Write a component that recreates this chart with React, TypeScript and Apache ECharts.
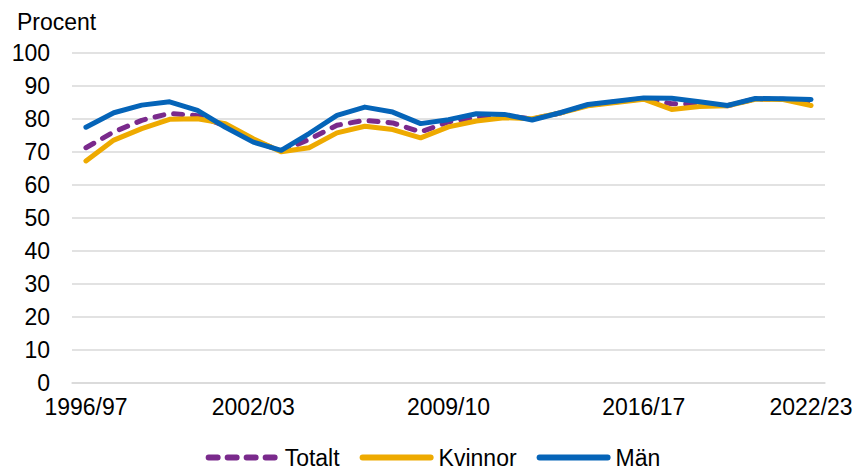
import React, { useEffect, useRef } from "react";
import * as echarts from "echarts";

const categories = [
  "1996/97", "1997/98", "1998/99", "1999/00", "2000/01", "2001/02", "2002/03",
  "2003/04", "2004/05", "2005/06", "2006/07", "2007/08", "2008/09", "2009/10",
  "2010/11", "2011/12", "2012/13", "2013/14", "2014/15", "2015/16", "2016/17",
  "2017/18", "2018/19", "2019/20", "2020/21", "2021/22", "2022/23",
];
const shownLabels = ["1996/97", "2002/03", "2009/10", "2016/17", "2022/23"];

const totalt = [71.3, 76.1, 79.6, 81.7, 81.0, 77.9, 73.5, 70.3, 73.8, 78.1, 79.6, 78.8, 76.1, 79.1, 80.5, 81.0, 80.0, 81.8, 84.2, 85.2, 86.2, 84.6, 84.5, 84.0, 86.1, 86.0, 85.0];
const kvinnor = [67.3, 73.6, 77.1, 79.9, 80.1, 78.6, 74.0, 70.1, 71.3, 75.8, 77.8, 76.8, 74.3, 77.6, 79.4, 80.4, 80.1, 81.8, 84.0, 85.0, 86.0, 82.9, 83.8, 84.0, 86.0, 85.9, 84.1];
const man = [77.5, 81.9, 84.2, 85.2, 82.6, 77.5, 73.0, 70.5, 75.6, 81.1, 83.6, 82.1, 78.6, 79.8, 81.6, 81.4, 79.7, 81.9, 84.4, 85.4, 86.4, 86.3, 85.2, 84.1, 86.2, 86.1, 85.9];

const FONT = "'Liberation Sans', Arial, sans-serif";
const FS = 23;

export default function App() {
  const ref = useRef<HTMLDivElement>(null);
  useEffect(() => {
    if (!ref.current) return;
    const chart = echarts.init(ref.current, undefined, { renderer: "svg" });
    chart.setOption({
      animation: false,
      textStyle: { fontFamily: FONT, color: "#000" },
      grid: { left: 72, right: 41, top: 53, bottom: 87, containLabel: false },
      graphic: [
        {
          type: "text",
          left: 17,
          top: 10,
          style: { text: "Procent", font: `${FS}px ${FONT}`, fill: "#000" },
        },
      ],
      legend: {
        bottom: -4,
        left: "center",
        itemWidth: 68,
        itemHeight: 14,
        itemGap: 20,
        itemStyle: { opacity: 0 },
        lineStyle: { width: 6, cap: "round" },
        textStyle: { fontSize: FS, fontFamily: FONT, color: "#000", padding: [0, 0, 0, 3] },
        data: ["Totalt", "Kvinnor", "Män"],
      },
      xAxis: {
        type: "category",
        data: categories,
        boundaryGap: true,
        axisTick: { show: false },
        axisLine: { show: true, lineStyle: { color: "#d9d9d9", width: 1.5 } },
        axisLabel: {
          interval: (_i: number, v: string) => shownLabels.includes(v),
          fontSize: FS,
          fontFamily: FONT,
          color: "#000",
          margin: 12,
        },
      },
      yAxis: {
        type: "value",
        min: 0,
        max: 100,
        interval: 10,
        axisLine: { show: false },
        axisTick: { show: false },
        splitLine: { lineStyle: { color: "#d9d9d9", width: 1.5 } },
        axisLabel: { fontSize: FS, fontFamily: FONT, color: "#000", margin: 22 },
      },
      series: [
        {
          name: "Totalt",
          type: "line",
          data: totalt,
          symbol: "none",
          itemStyle: { color: "#7a2a8c" },
          lineStyle: { color: "#7a2a8c", width: 5, type: [9, 10], cap: "round", join: "round" },
        },
        {
          name: "Kvinnor",
          type: "line",
          data: kvinnor,
          symbol: "none",
          itemStyle: { color: "#eeaa00" },
          lineStyle: { color: "#eeaa00", width: 5, cap: "round", join: "round" },
        },
        {
          name: "Män",
          type: "line",
          data: man,
          symbol: "none",
          itemStyle: { color: "#0564b8" },
          lineStyle: { color: "#0564b8", width: 5, cap: "round", join: "round" },
        },
      ],
    });
    return () => chart.dispose();
  }, []);
  return (
    <div
      ref={ref}
      style={{ position: "absolute", left: 0, top: 0, width: 866, height: 470 }}
    />
  );
}
